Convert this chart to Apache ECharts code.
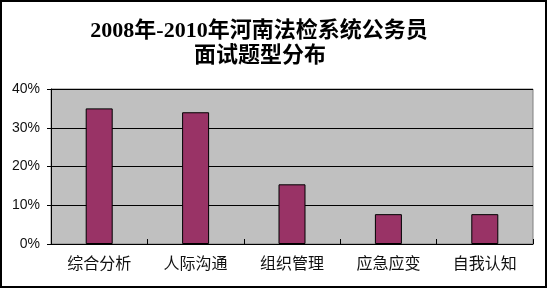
<!DOCTYPE html>
<html>
<head>
<meta charset="utf-8">
<script src="https://cdn.jsdelivr.net/npm/echarts@6/dist/echarts.min.js"></script>
<style>html,body{margin:0;padding:0;background:#fff;}#c{width:550px;height:289px;}</style>
</head>
<body>
<div id="c"></div>
<script>
const titleLines = ['2008年-2010年河南法检系统公务员', '面试题型分布'];
const categories = ['综合分析', '人际沟通', '组织管理', '应急应变', '自我认知'];
const values = [35, 34, 15.4, 7.7, 7.7];
const yMin = 0, yMax = 40, yStep = 10;

const titleFont = {
  fontFamily: '"Liberation Serif", "Noto Sans CJK SC", serif',
  fontSize: 22,
  fontWeight: 'bold',
  fill: '#000',
  textAlign: 'center',
  textVerticalAlign: 'middle'
};

const chart = echarts.init(document.getElementById('c'), null, {renderer: 'canvas'});
chart.setOption({
  animation: false,
  backgroundColor: '#ffffff',
  graphic: [{
    type: 'rect',
    shape: {x: 1, y: 1, width: 545, height: 286},
    style: {fill: 'none', stroke: '#000', lineWidth: 2},
    silent: true
  }, {
    type: 'text', x: 259, y: 31,
    style: Object.assign({text: titleLines[0]}, titleFont),
    silent: true
  }, {
    type: 'text', x: 260, y: 56,
    style: Object.assign({text: titleLines[1]}, titleFont),
    silent: true
  }],
  grid: {
    left: 51, right: 17, top: 89, bottom: 45,
    show: true,
    backgroundColor: '#C0C0C0',
    borderColor: '#808080',
    borderWidth: 1
  },
  xAxis: {
    type: 'category',
    data: categories,
    axisLine: {lineStyle: {color: '#000', width: 1}},
    axisTick: {show: true, inside: true, length: 5, lineStyle: {color: '#000'}},
    axisLabel: {
      fontFamily: '"Noto Sans CJK SC", sans-serif',
      fontSize: 16,
      color: '#111',
      margin: 11
    }
  },
  yAxis: {
    type: 'value',
    min: yMin, max: yMax, interval: yStep,
    axisLine: {show: true, lineStyle: {color: '#000'}},
    axisTick: {show: true, length: 4, lineStyle: {color: '#000'}},
    splitLine: {show: true, lineStyle: {color: '#000', width: 1}},
    axisLabel: {
      formatter: '{value}%',
      fontFamily: '"Liberation Sans", Arial, sans-serif',
      fontSize: 14,
      color: '#111',
      margin: 11
    }
  },
  series: [{
    type: 'bar',
    data: values,
    barWidth: 27,
    itemStyle: {color: '#993366', borderColor: '#000', borderWidth: 1}
  }]
});
</script>
</body>
</html>
